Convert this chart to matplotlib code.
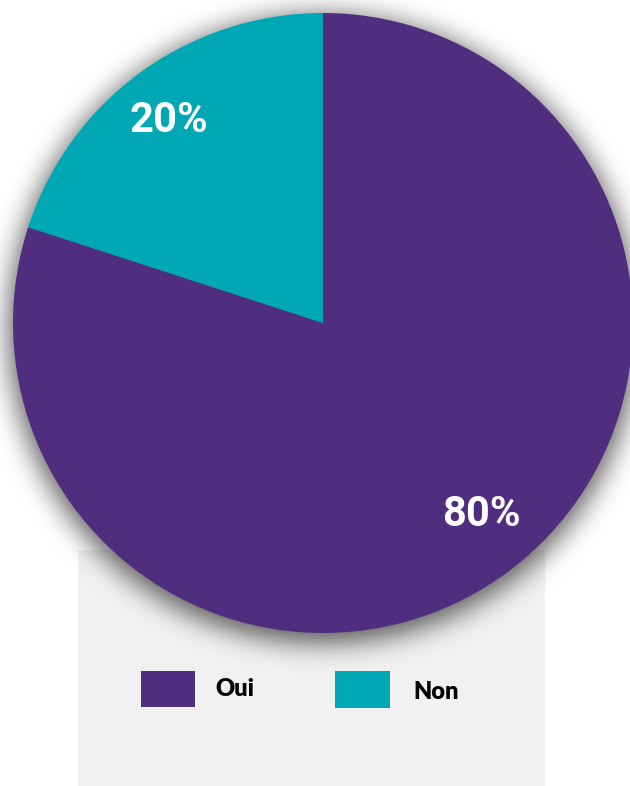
import math
import numpy as np
import matplotlib
matplotlib.use("Agg")
import matplotlib.pyplot as plt
from matplotlib.patches import Rectangle

labels = ["Oui", "Non"]
shares = [80, 20]
colors = ["#4f2d7f", "#00a8b5"]

W, H = 630, 786
fig = plt.figure(figsize=(W / 100.0, H / 100.0), dpi=100)
ax = fig.add_axes([0, 0, 1, 1])
ax.set_axis_off()

cx, cy, r = 323, H - 323, 310

# light grey panel behind the lower part of the pie
ax.add_patch(Rectangle((78, 0), 467, H - 550, facecolor="#f1f1f1", edgecolor="none", zorder=0))

# soft drop shadow round the disc
yy, xx = np.mgrid[0:H, 0:W]
d = np.hypot(xx + 0.5 - cx, (H - yy - 0.5) - (cy - 6))
erf = np.frompyfunc(math.erf, 1, 1)
fall = 0.5 * (1 - erf((d - r - 4) / (13.0 * math.sqrt(2))).astype(float))
shadow = np.zeros((H, W, 4))
shadow[..., 3] = 0.62 * fall
ax.imshow(shadow, extent=(0, W, 0, H), origin="upper", zorder=1, interpolation="bilinear")

wedges, _ = ax.pie(shares, colors=colors, startangle=90, counterclock=False,
                   center=(cx, cy), radius=r, wedgeprops=dict(linewidth=0))
for w in wedges:
    w.set_zorder(2)

pct_font = dict(family=["Roboto", "DejaVu Sans"], weight="bold", fontsize=30, color="white")
ax.text(481, H - 514, "%d%%" % shares[0], ha="center", va="center", zorder=3, **pct_font)
ax.text(169, H - 121, "%d%%" % shares[1], ha="center", va="center", zorder=3, **pct_font)

# legend
leg_font = dict(family=["Lato", "DejaVu Sans"], weight="heavy", fontsize=17, color="black")
ax.add_patch(Rectangle((141, H - 707), 54, 36, facecolor=colors[0], edgecolor="none", zorder=3))
ax.text(215, H - 689, labels[0], ha="left", va="center", zorder=3, **leg_font)
ax.add_patch(Rectangle((335, H - 708), 55, 37, facecolor=colors[1], edgecolor="none", zorder=3))
ax.text(413, H - 692, labels[1], ha="left", va="center", zorder=3, **leg_font)

ax.set_xlim(0, W)
ax.set_ylim(0, H)
ax.set_aspect("auto")

fig.savefig("out.png", dpi=100, facecolor="white")
